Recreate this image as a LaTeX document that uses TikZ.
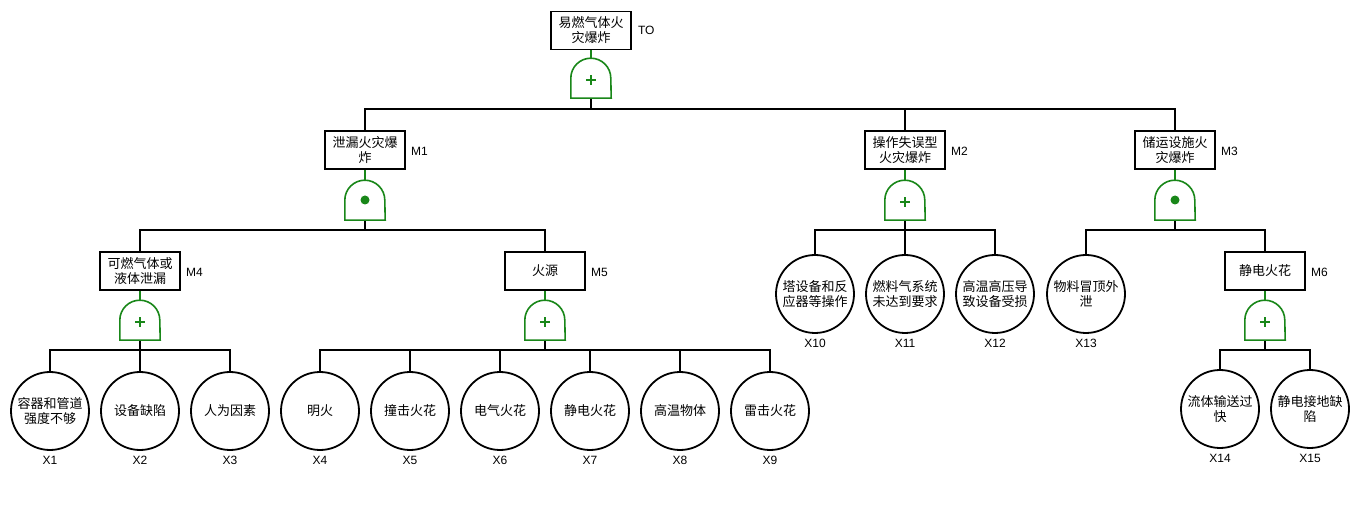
\documentclass[tikz,border=0pt]{standalone}
\usepackage{fontspec}
\setmainfont{Noto Sans CJK SC}
\newfontfamily\latfont{Liberation Sans}
\definecolor{gatec}{RGB}{25,135,25}
\tikzset{
  box/.style={draw,line width=1.8pt,minimum width=80pt,minimum height=38pt,inner sep=1pt,align=center,font=\fontsize{13}{15}\selectfont},
  ev/.style={circle,draw,line width=1.8pt,minimum size=78pt,inner sep=0pt,align=center,font=\fontsize{13}{14.5}\selectfont},
  gatebox/.style={minimum width=40pt,minimum height=40pt,inner sep=0pt},
  gateline/.style={gatec,line width=1.6pt},
  tag/.style={font=\latfont\fontsize{12}{14}\selectfont,inner sep=0pt},
  conn/.style={line width=1.8pt,black},
}
\newcommand\gateoutline[1]{%
  \draw[gateline,fill=white] (#1.south west) -- ([yshift=20pt]#1.south west) arc[start angle=180,end angle=0,radius=20pt] -- (#1.south east) -- cycle;}
\newcommand\orgate[1]{\gateoutline{#1}%
  \draw[gatec,line width=1.7pt] ([xshift=-5pt,yshift=-2pt]#1.center) -- ([xshift=5pt,yshift=-2pt]#1.center);
  \draw[gatec,line width=1.7pt] ([yshift=-7pt]#1.center) -- ([yshift=3pt]#1.center);}
\newcommand\andgate[1]{\gateoutline{#1}%
  \fill[gatec] (#1.center) circle[radius=4.5pt];}
\begin{document}
\begin{tikzpicture}[x=1pt,y=-1pt]
\fill[white] (0,0) rectangle (1360,510);
\path[use as bounding box] (0,0) rectangle (1360,510);

% intermediate events
\node[box] (T0) at (591,30.5) {易燃气体火\\灾爆炸};
\node[box] (M1) at (365,150) {泄漏火灾爆\\炸};
\node[box] (M2) at (905,150) {操作失误型\\火灾爆炸};
\node[box] (M3) at (1175,150) {储运设施火\\灾爆炸};
\node[box] (M4) at (140,271) {可燃气体或\\液体泄漏};
\node[box] (M5) at (545,271) {火源};
\node[box] (M6) at (1265,271) {静电火花};

\node[tag,anchor=west] (tT0) at ([xshift=6pt]T0.east) {TO};
\node[tag,anchor=west] (tM1) at ([xshift=5pt,yshift=-1pt]M1.east) {M1};
\node[tag,anchor=west] (tM2) at ([xshift=5pt,yshift=-1pt]M2.east) {M2};
\node[tag,anchor=west] (tM3) at ([xshift=5pt,yshift=-1pt]M3.east) {M3};
\node[tag,anchor=west] (tM4) at ([xshift=5pt,yshift=-1pt]M4.east) {M4};
\node[tag,anchor=west] (tM5) at ([xshift=5pt,yshift=-1pt]M5.east) {M5};
\node[tag,anchor=west] (tM6) at ([xshift=5pt,yshift=-1pt]M6.east) {M6};

% gates
\node[gatebox] (G0) at (591,78) {};
\node[gatebox] (G1) at (365,200) {};
\node[gatebox] (G2) at (905,200) {};
\node[gatebox] (G3) at (1175,200) {};
\node[gatebox] (G4) at (140,320) {};
\node[gatebox] (G5) at (545,320) {};
\node[gatebox] (G6) at (1265,320) {};

% basic events
\node[ev] (X1) at (50,411) {容器和管道\\强度不够};
\node[ev] (X2) at (140,411) {设备缺陷};
\node[ev] (X3) at (230,411) {人为因素};
\node[ev] (X4) at (320,411) {明火};
\node[ev] (X5) at (410,411) {撞击火花};
\node[ev] (X6) at (500,411) {电气火花};
\node[ev] (X7) at (590,411) {静电火花};
\node[ev] (X8) at (680,411) {高温物体};
\node[ev] (X9) at (770,411) {雷击火花};
\node[ev] (X10) at (815,294) {塔设备和反\\应器等操作};
\node[ev] (X11) at (905,294) {燃料气系统\\未达到要求};
\node[ev] (X12) at (995,294) {高温高压导\\致设备受损};
\node[ev] (X13) at (1086,294) {物料冒顶外\\泄};
\node[ev] (X14) at (1220,409) {流体输送过\\快};
\node[ev] (X15) at (1310,409) {静电接地缺\\陷};

\foreach \n in {1,...,15}{
  \node[tag,anchor=north] (tX\n) at ([yshift=-5pt]X\n.south) {X\n};
}

% connectors
\foreach \g/\b in {T0/G0,M1/G1,M2/G2,M3/G3,M4/G4,M5/G5,M6/G6}{
  \draw[gateline] (\b.north) -- (\g.south);
}
\foreach \g/\c in {G0/M1,G0/M2,G0/M3}{
  \draw[conn] (\g.south) -- ++(0,11) -| (\c.north);
}
\foreach \g/\c in {G1/M4,G1/M5,G2/X10,G2/X11,G2/X12,G3/X13,G3/M6,G4/X1,G4/X2,G4/X3,G5/X4,G5/X5,G5/X6,G5/X7,G5/X8,G5/X9,G6/X14,G6/X15}{
  \draw[conn] (\g.south) -- ++(0,10) -| (\c.north);
}

% gate symbols
\orgate{G0}
\andgate{G1}
\orgate{G2}
\andgate{G3}
\orgate{G4}
\orgate{G5}
\orgate{G6}
\end{tikzpicture}
\end{document}
